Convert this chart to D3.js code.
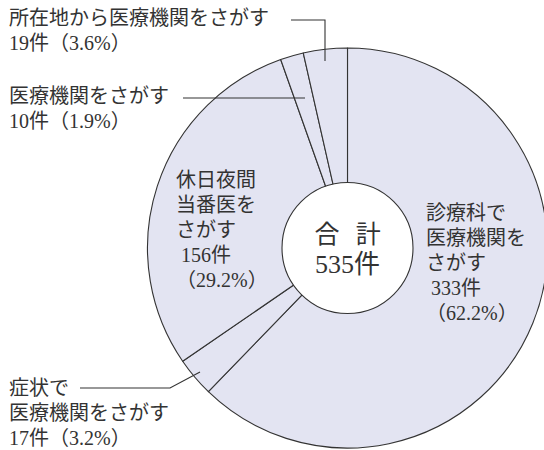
<!DOCTYPE html>
<html><head><meta charset="utf-8">
<script src="https://cdn.jsdelivr.net/npm/d3@7"></script>
<style>
html,body{margin:0;padding:0;background:#fff;}
svg{display:block;}
text{font-family:"Liberation Serif","Noto Sans CJK JP",serif;fill:#333;}
</style></head>
<body>
<svg id="chart" width="544" height="450"></svg>
<script>
// ---- data ----
const categories = ["診療科で医療機関をさがす","症状で医療機関をさがす","休日夜間当番医をさがす","医療機関をさがす","所在地から医療機関をさがす"];
const counts = [333, 17, 156, 10, 19];
const percents = ["62.2%","3.2%","29.2%","1.9%","3.6%"];
const totalLabel = ["合 計", "535件"];
const labelLines = [
  ["診療科で","医療機関を","さがす"," 333件","（62.2%）"],
  ["症状で","医療機関をさがす","17件（3.2%）"],
  ["休日夜間","当番医を","さがす"," 156件","（29.2%）"],
  ["医療機関をさがす","10件（1.9%）"],
  ["所在地から医療機関をさがす","19件（3.6%）"]
];

// ---- layout ----
const cx = 347.5, cy = 248, R = 200, r0 = 65.5;
const fs = 20, lh = 25;
const labelPos = [
  {x:426, y:220},
  {x:9, y:395},
  {x:176, y:187},
  {x:9, y:103},
  {x:9, y:25}
];
const leaders = [
  null,
  [[80,388],[170,388],[200,372]],
  null,
  [[183,98],[305,98]],
  [[291,20],[325,20],[325,61]]
];

const svg = d3.select("#chart");
const g = svg.append("g").attr("transform",`translate(${cx},${cy})`);

const pie = d3.pie().sort(null).value(d=>d);
const arcs = pie(counts);
const arc = d3.arc().innerRadius(0).outerRadius(R);

g.selectAll("path.slice").data(arcs).join("path")
  .attr("class","slice")
  .attr("d",arc)
  .attr("fill","#e3e4f2")
  .attr("stroke","#333")
  .attr("stroke-width",1.1)
  .attr("stroke-linejoin","round");

g.append("circle").attr("r",r0).attr("fill","#fff").attr("stroke","#333").attr("stroke-width",1.1);

g.append("text").attr("text-anchor","middle").attr("y",-5).attr("font-size",25)
  .attr("word-spacing",10).style("white-space","pre").text(totalLabel[0]);
g.append("text").attr("text-anchor","middle").attr("y",25).attr("font-size",26).text(totalLabel[1]);

const line = d3.line();
leaders.forEach(l=>{
  if(!l) return;
  svg.append("path").attr("d",line(l)).attr("fill","none").attr("stroke","#333").attr("stroke-width",1.1);
});

labelLines.forEach((lines,i)=>{
  const t = svg.append("text").attr("font-size",fs)
    .attr("x",labelPos[i].x).attr("y",labelPos[i].y);
  lines.forEach((s,j)=>{
    t.append("tspan").attr("x",labelPos[i].x).attr("y",labelPos[i].y + j*lh)
     .style("white-space","pre").text(s);
  });
});
</script>
</body></html>
